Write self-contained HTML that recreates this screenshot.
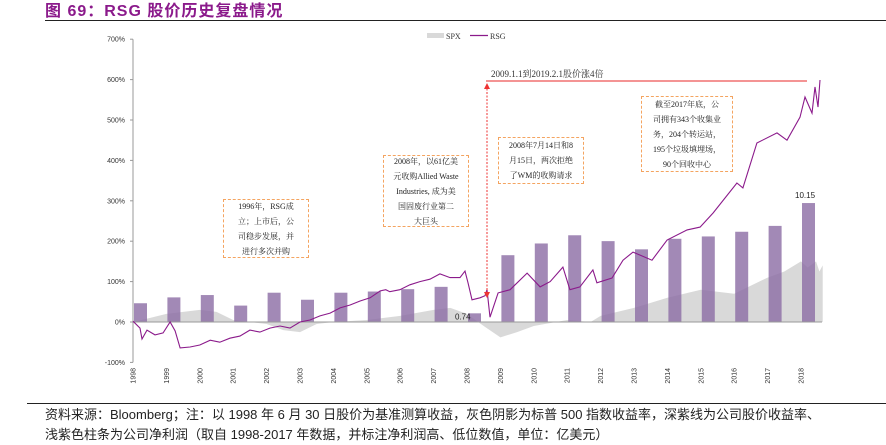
<!DOCTYPE html>
<html><head><meta charset="utf-8">
<style>
body{margin:0;background:#fff;width:886px;height:438px;overflow:hidden;position:relative;font-family:"Liberation Sans","Noto Sans CJK SC",sans-serif}
.box{position:absolute;border:1px dashed #f4a460;background:#fff;font-family:"Liberation Serif","Noto Serif CJK SC",serif;font-size:8px;line-height:15px;text-align:center;color:#222;display:flex;align-items:center;justify-content:center}
</style></head><body>
<div style="position:absolute;left:45px;top:-3px;font-size:16px;font-weight:bold;color:#8b1a8b;letter-spacing:1px">图 69：RSG 股价历史复盘情况</div>
<div style="position:absolute;left:45px;top:20px;width:841px;height:1px;background:#222"></div>
<svg id="chart" width="886" height="400" style="position:absolute;left:0;top:0"></svg>
<div class="box" style="left:223px;top:199px;width:84px;height:57px">1996年，RSG成<br>立；上市后，公<br>司稳步发展，并<br>进行多次并购</div>
<div class="box" style="left:383px;top:155px;width:84px;height:70px">2008年，以61亿美<br>元收购Allied Waste<br>Industries, 成为美<br>国固废行业第二<br>大巨头</div>
<div class="box" style="left:498px;top:137px;width:84px;height:45px">2008年7月14日和8<br>月15日，两次拒绝<br>了WM的收购请求</div>
<div class="box" style="left:641px;top:96px;width:90px;height:74px">截至2017年底，公<br>司拥有343个收集业<br>务，204个转运站，<br>195个垃圾填埋场，<br>90个回收中心</div>
<div style="position:absolute;left:27px;top:403px;width:859px;height:1px;background:#222"></div>
<div style="position:absolute;left:45px;top:405px;font-size:13px;line-height:20px;color:#222;white-space:nowrap">资料来源：Bloomberg；注：以 1998 年 6 月 30 日股价为基准测算收益，灰色阴影为标普 500 指数收益率，深紫线为公司股价收益率、<br>浅紫色柱条为公司净利润（取自 1998-2017 年数据，并标注净利润高、低位数值，单位：亿美元）</div>
<script>
const years=[1998,1999,2000,2001,2002,2003,2004,2005,2006,2007,2008,2009,2010,2011,2012,2013,2014,2015,2016,2017,2018];
const profit=[1.6,2.1,2.3,1.4,2.5,1.9,2.5,2.6,2.8,3.0,0.74,5.7,6.7,7.4,6.9,6.2,7.1,7.3,7.7,8.2,10.15];
const yTicks=[-100,0,100,200,300,400,500,600,700];
const rsgT=[0,0.21,0.27,0.42,0.66,0.9,1.11,1.26,1.41,1.71,2.0,2.31,2.6,2.9,3.2,3.5,3.8,4.1,4.4,4.7,5.0,5.3,5.6,5.9,6.2,6.5,6.8,7.1,7.4,7.57,7.69,7.99,8.29,8.59,8.89,9.19,9.49,9.79,9.94,10.03,10.15,10.39,10.54,10.6,10.69,10.93,11.29,11.8,12.19,12.49,12.87,13.08,13.38,13.77,13.89,14.34,14.67,14.97,15.54,15.99,16.59,16.98,17.37,18.08,18.26,18.68,19.28,19.58,19.97,20.12,20.33,20.42,20.51,20.57];
const rsgV=[2,-15,-42,-20,-32,-27,0,-22,-64,-62,-57,-45,-50,-40,-35,-20,-25,-15,-10,-15,0,5,15,22,35,42,52,60,77,80,75,80,92,100,106,119,110,110,126,97,55,60,65,80,12,72,80,121,87,100,136,80,87,129,97,109,153,173,153,203,228,235,270,344,332,443,468,450,507,557,517,582,532,599];
const spxT=[0,0.5,1,1.5,2,2.5,3,3.5,4,4.5,5,5.5,6,7,8,9,9.5,10,10.5,11,11.5,12,13,13.7,14,15,16,16.5,17,17.5,18,18.5,19,19.5,20,20.2,20.45,20.55,20.65];
const spxV=[0,10,20,25,30,25,5,0,-5,-20,-25,-5,0,5,15,30,35,20,-10,-38,-25,-10,5,0,15,35,60,70,80,75,70,90,110,125,150,135,150,125,140];

const svg=document.getElementById('chart');const NS='http://www.w3.org/2000/svg';
const X0=133,XS=33.4,Y0=322,YS=0.404;
const xs=t=>X0+t*XS, ys=v=>Y0-v*YS, yb=p=>Y0-p*11.72;
function mk(tag,at,parent){const e=document.createElementNS(NS,tag);for(const k in at)e.setAttribute(k,at[k]);(parent||svg).appendChild(e);return e;}
let d='M'+xs(spxT[0])+','+Y0;spxT.forEach((t,i)=>d+=' L'+xs(t).toFixed(1)+','+ys(spxV[i]).toFixed(1));d+=' L'+xs(spxT[spxT.length-1])+','+Y0+'Z';
const area=mk('path',{d:d,fill:'#d9d9d9'});


years.forEach((y,i)=>{const b=mk('rect',{x:xs(y-1998)+1,y:yb(profit[i]),width:13,height:Y0-yb(profit[i]),fill:'#8e6fa6','fill-opacity':0.82});

});
mk('line',{x1:X0,y1:ys(700),x2:X0,y2:ys(-100),stroke:'#999','stroke-width':1});
mk('line',{x1:X0,y1:Y0,x2:822,y2:Y0,stroke:'#999','stroke-width':1});
yTicks.forEach(v=>{mk('line',{x1:X0-3,y1:ys(v),x2:X0,y2:ys(v),stroke:'#999'});
const t=mk('text',{x:X0-8,y:ys(v)+2.5,'font-size':7,'text-anchor':'end',fill:'#333'});t.textContent=v+'%';

});
years.forEach(y=>{const t=mk('text',{transform:`translate(${xs(y-1998)+2.5},368) rotate(-90)`,'font-size':7,'text-anchor':'end',fill:'#333'});t.textContent=y;

});
let p='';rsgT.forEach((t,i)=>p+=(i?' L':'M')+xs(t).toFixed(1)+','+ys(rsgV[i]).toFixed(1));
const ln=mk('path',{d:p,fill:'none',stroke:'#8b1a8b','stroke-width':1.1});


let l=mk('text',{x:xs(10)-12,y:yb(0.74)+6,'font-size':8,fill:'#222'});l.textContent='0.74';
l=mk('text',{x:xs(20)-6,y:yb(10.15)-5,'font-size':8,fill:'#222'});l.textContent='10.15';
mk('line',{x1:487,y1:85,x2:487,y2:295,stroke:'#ee3333','stroke-dasharray':'2,1.5','stroke-width':1});
mk('path',{d:'M484,89 L487,83 L490,89Z',fill:'#ee3333'});
mk('path',{d:'M484,292 L487,298 L490,292Z',fill:'#ee3333'});
mk('line',{x1:486,y1:81,x2:807,y2:81,stroke:'#ee5555','stroke-width':1.2});
l=mk('text',{x:491,y:77,'font-size':9,fill:'#333','font-family':'Liberation Serif, Noto Serif CJK SC, serif'});l.textContent='2009.1.1到2019.2.1股价涨4倍';
mk('rect',{x:427,y:33,width:17,height:5,fill:'#d9d9d9'});
l=mk('text',{x:446,y:39,'font-size':8,fill:'#333','font-family':'Liberation Serif, serif'});l.textContent='SPX';
mk('line',{x1:470,y1:35.5,x2:488,y2:35.5,stroke:'#8b1a8b','stroke-width':1.2});
l=mk('text',{x:490,y:39,'font-size':8,fill:'#333','font-family':'Liberation Serif, serif'});l.textContent='RSG';
</script>
</body></html>
